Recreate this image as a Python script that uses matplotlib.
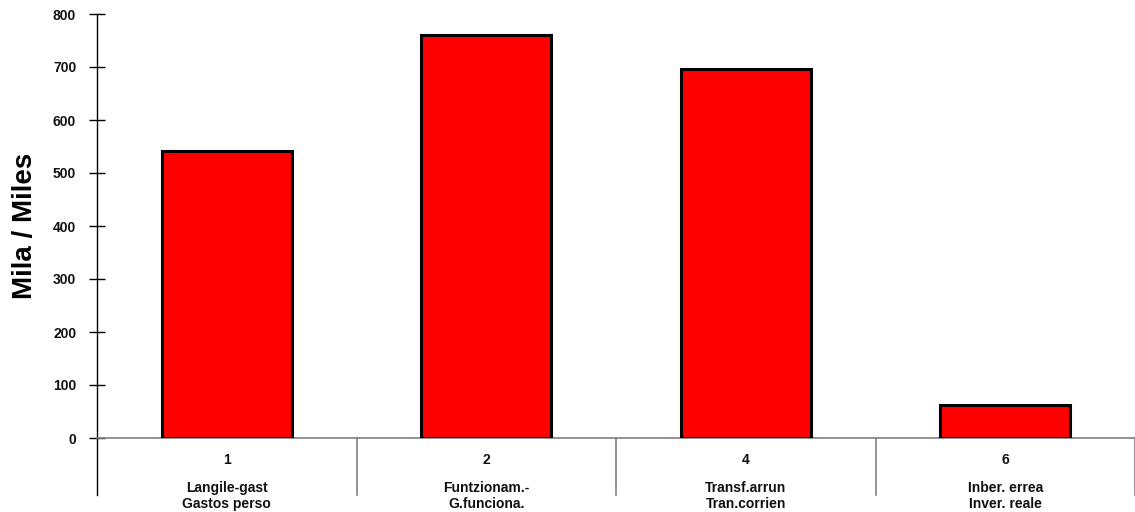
import matplotlib
matplotlib.use("Agg")
import matplotlib.pyplot as plt
import matplotlib.transforms as mtransforms

codes = ["1", "2", "4", "6"]
names_eu = ["Langile-gast", "Funtzionam.-", "Transf.arrun", "Inber. errea"]
names_es = ["Gastos perso", "G.funciona.", "Tran.corrien", "Inver. reale"]
values = [541, 761, 697, 62]
yticks = [0, 100, 200, 300, 400, 500, 600, 700, 800]

plt.rcParams['font.family'] = ['Liberation Sans', 'DejaVu Sans']

W, H = 1135, 512
fig = plt.figure(figsize=(W / 100, H / 100), dpi=100)
x0, x1 = 97, 1135
y0, y1 = 438, 14
ax = fig.add_axes([x0 / W, 1 - y0 / H, (x1 - x0) / W, (y0 - y1) / H])

n = len(values)
pos = list(range(n))
ax.bar(pos, values, width=0.5, color="#ff0000", edgecolor="black", linewidth=2.2, zorder=3)
ax.set_xlim(-0.5, n - 0.5)
ax.set_ylim(0, 800)

for s in ["top", "right"]:
    ax.spines[s].set_visible(False)
ax.spines["bottom"].set_color("#808080")
ax.spines["bottom"].set_linewidth(1.2)
ax.spines["left"].set_color("black")
ax.spines["left"].set_linewidth(1.0)

ax.set_yticks(yticks)
ax.set_yticklabels([str(t) for t in yticks], fontsize=10, fontweight="bold", color="#111111")
ax.tick_params(axis="y", direction="inout", length=12, width=1.0, pad=9)
ax.set_xticks([])

ax.set_ylabel("Mila / Miles", fontsize=20, fontweight="bold")
ax.yaxis.set_label_coords((38 - x0) / (x1 - x0), 0.5)

trans = mtransforms.blended_transform_factory(ax.transData, ax.transAxes)
hpx = (y0 - y1)
depth = (495 - 438) / hpx
ax.plot([-0.5, -0.5], [0, -depth], transform=trans, color="black", lw=1.0, clip_on=False)
for i in range(1, n + 1):
    ax.plot([i - 0.5, i - 0.5], [0, -depth], transform=trans, color="#808080", lw=1.2, clip_on=False)
for i, p in enumerate(pos):
    ax.text(p, -(460 - 438) / hpx, codes[i], transform=trans, ha="center", va="center",
            fontsize=10, fontweight="bold", color="#111111")
    ax.text(p, -(496 - 438) / hpx, names_eu[i] + "\n" + names_es[i], transform=trans,
            ha="center", va="center", fontsize=10, fontweight="bold", linespacing=1.15,
            color="#111111")

fig.savefig("out.png", dpi=100)
